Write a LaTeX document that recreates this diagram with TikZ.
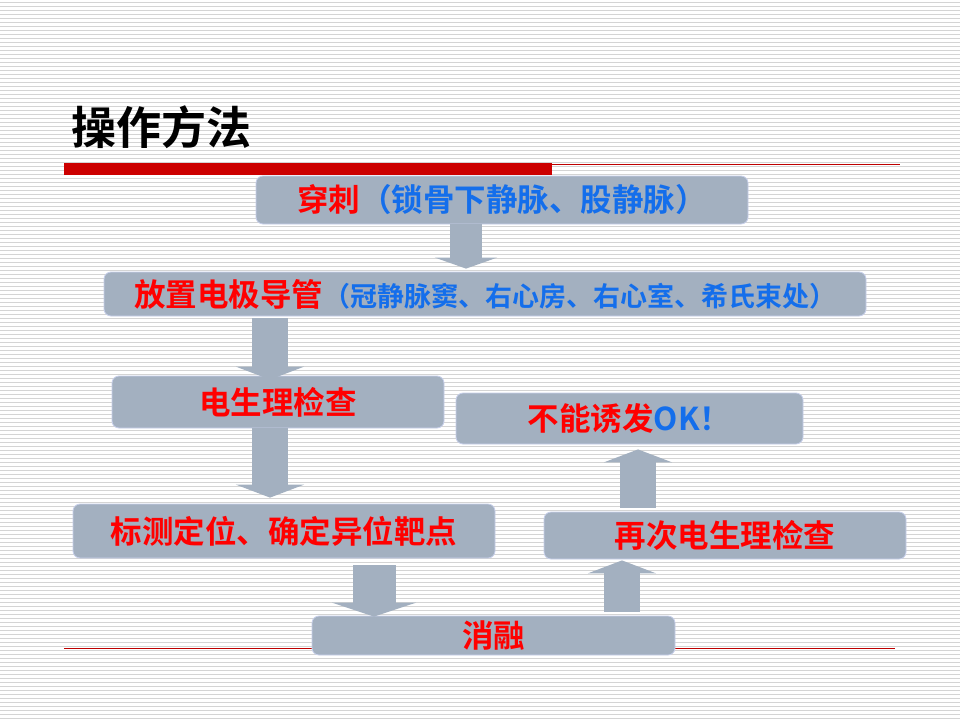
\documentclass[tikz,border=0pt]{standalone}
\usepackage{fontspec}
\usetikzlibrary{arrows.meta}
\newfontfamily\cjk{Noto Sans CJK SC}[BoldFont={Noto Sans CJK SC Bold}]

\definecolor{boxgray}{RGB}{163,176,192}
\definecolor{boxedge}{RGB}{200,208,235}
\definecolor{textblue}{RGB}{20,110,235}
\definecolor{barred}{RGB}{204,0,0}
\definecolor{linered}{RGB}{190,0,0}
\definecolor{stripegray}{RGB}{212,212,212}

\tikzset{
  stripe/.style={draw=stripegray, line width=1pt},
  stepbox/.style={draw=boxedge, line width=0.8pt, fill=boxgray, rounded corners=7pt,
    inner sep=0pt, text=red, font={\cjk\bfseries\fontsize{31.5}{36}\selectfont}},
  blockarrow/.style={draw=boxgray, line width=36pt, -{Triangle[width=68pt,length=13pt]}},
}

\begin{document}
\begin{tikzpicture}[x=1pt,y=-1pt]

\useasboundingbox (0,0) rectangle (960,720);
\fill[white] (0,0) rectangle (960,720);
\foreach \y in {2,6,...,718} \draw[stripe] (0,\y) -- (960,\y);

\node[anchor=west, font={\cjk\bfseries\fontsize{45}{50}\selectfont}] (title) at (68,127) {操作方法};
\fill[barred] (64,163) rectangle (552,175);
\draw[linered, line width=1pt] (552,164) -- (900,164);
\draw[linered, line width=1pt] (64,648) -- (895,648);

\node[stepbox, minimum width=492pt, minimum height=48pt] (chuanci) at (502,200)
  {穿刺\textcolor{textblue}{（锁骨下静脉、股静脉）}};
\node[stepbox, minimum width=762pt, minimum height=44pt] (fangzhi) at (485,294)
  {放置电极导管{\fontsize{27}{30}\selectfont\textcolor{textblue}{（冠静脉窦、右心房、右心室、希氏束处）}}};
\node[stepbox, minimum width=332pt, minimum height=52pt] (jiancha) at (278,402) {电生理检查};
\node[stepbox, minimum width=422pt, minimum height=54pt] (biaoce) at (284,531) {标测定位、确定异位靶点};
\node[stepbox, minimum width=347pt, minimum height=51pt] (buneng) at (629.5,418.5)
  {不能诱发\textcolor{textblue}{OK！}};
\node[stepbox, minimum width=362pt, minimum height=47pt] (zaici) at (725,535.5) {再次电生理检查};
\node[stepbox, minimum width=363pt, minimum height=39pt] (xiaorong) at (493.5,635.5) {消融};

\draw[blockarrow, line width=32pt, -{Triangle[width=62pt,length=11pt]}]
  ([xshift=-36pt]chuanci.south) -- ([xshift=-19pt,yshift=3pt]fangzhi.north);
\draw[blockarrow] ([xshift=-215pt,yshift=-2pt]fangzhi.south) -- ([xshift=-8pt,yshift=-4pt]jiancha.north);
\draw[blockarrow] ([xshift=-8pt]jiancha.south) -- ([xshift=-14pt,yshift=6pt]biaoce.north);
\draw[blockarrow, line width=43pt, -{Triangle[width=84pt,length=14pt]}]
  ([xshift=90pt,yshift=-7pt]biaoce.south) -- ([xshift=-119.5pt,yshift=-1pt]xiaorong.north);
\draw[blockarrow] ([xshift=128.5pt,yshift=4pt]xiaorong.north) -- ([xshift=-103pt,yshift=-1pt]zaici.south);
\draw[blockarrow] ([xshift=-87pt,yshift=4pt]zaici.north) -- ([xshift=8.5pt,yshift=-5pt]buneng.south);

\end{tikzpicture}
\end{document}
